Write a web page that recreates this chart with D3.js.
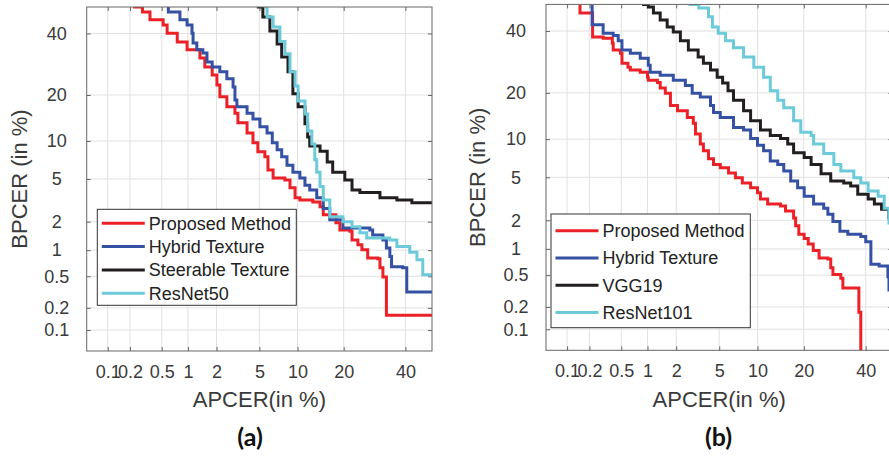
<!DOCTYPE html>
<html>
<head>
<meta charset="utf-8">
<script src="https://cdn.jsdelivr.net/npm/d3@7"></script>
<style>
  html, body { margin: 0; padding: 0; background: #fff; }
  svg { display: block; }
</style>
</head>
<body>
<svg id="chart" width="889" height="456"></svg>
<script>
// ---- Axis ticks and limits (percent, normal-deviate scale) ----
const tickValues = [0.1, 0.2, 0.5, 1, 2, 5, 10, 20, 40];
const tickLabels = ["0.1", "0.2", "0.5", "1", "2", "5", "10", "20", "40"];
const axisLimits = [0.05, 50];

const seriesColors = ["#ec2127", "#3451a4", "#231f20", "#6dcbd9"];

// ---- Panel (a) ----
const namesA = ["Proposed Method", "Hybrid Texture", "Steerable Texture", "ResNet50"];

const proposedA_apcer = [0.22, 0.29, 0.36, 0.52, 0.58, 0.76, 0.98, 1.35, 1.52, 1.81, 2.02, 2.16, 2.53, 3.02, 3.22, 3.9, 4.4, 4.85, 5.56, 5.9, 6.5, 8.05, 8.8, 9.6, 10.4, 12.8, 14.3, 15.0, 18.0, 19.0, 21.7, 22.3, 24.0, 25.2, 27.0, 30.3, 31.0, 32.0, 33.2, 33.2, 50];
const proposedA_bpcer = [50, 48.1, 45.1, 43.2, 40.1, 36.9, 34.1, 31.3, 28.3, 25.8, 22.8, 19.5, 17.0, 15.5, 13.4, 11.4, 9.7, 8.3, 7.6, 5.96, 5.1, 4.9, 4.2, 3.4, 3.25, 3.1, 2.8, 2.34, 1.95, 1.65, 1.6, 1.29, 1.15, 1.01, 0.82, 0.80, 0.63, 0.49, 0.32, 0.16, 0.16];

const hybridA_apcer = [0.58, 0.60, 0.815, 0.98, 1.11, 1.14, 1.25, 1.45, 1.6, 1.81, 2.16, 2.53, 2.9, 3.02, 3.15, 3.9, 4.4, 5.05, 5.8, 6.4, 7.0, 7.6, 8.35, 9.25, 10.4, 11.3, 12.2, 13.6, 15.0, 16.5, 19.8, 27.7, 28.6, 32.0, 33.2, 34.4, 35.0, 39.0, 40.5, 40.5, 50];
const hybridA_bpcer = [50, 48.1, 45.1, 43.2, 40.1, 36.5, 34.1, 33.0, 29.9, 28.3, 26.8, 24.6, 22.2, 18.7, 17.0, 15.5, 14.2, 12.6, 11.4, 9.7, 8.6, 7.6, 6.5, 5.7, 5.1, 4.4, 4.0, 3.4, 2.7, 2.09, 1.73, 1.65, 1.46, 1.29, 1.06, 0.85, 0.65, 0.63, 0.45, 0.32, 0.32];

const steerableA_apcer = [4.75, 5.35, 6.12, 7.0, 7.6, 8.5, 9.25, 9.25, 10.1, 11.3, 11.8, 12.2, 14.3, 15.9, 17.2, 20.3, 22.3, 24.6, 31.0, 36.9, 42.4, 50];
const steerableA_bpcer = [50, 46.2, 40.9, 36.2, 31.6, 26.8, 23.1, 20.3, 17.0, 13.2, 10.7, 9.2, 8.4, 6.9, 5.7, 4.9, 4.0, 3.8, 3.4, 3.25, 3.05, 3.05];

const resnet50A_apcer = [5.56, 5.8, 6.5, 7.36, 8.05, 8.8, 9.6, 10.1, 11.3, 11.8, 12.6, 13.2, 13.6, 14.3, 15.0, 16.5, 19.8, 22.3, 24.6, 26.7, 34.4, 36.9, 41.6, 44.3, 46.5, 50];
const resnet50A_bpcer = [50, 46.2, 42.4, 37.1, 32.7, 26.8, 22.5, 18.4, 15.3, 11.8, 9.5, 7.2, 5.7, 4.3, 3.25, 2.24, 2.0, 1.78, 1.54, 1.36, 1.29, 1.1, 0.95, 0.78, 0.52, 0.52];

// ---- Panel (b) ----
const namesB = ["Proposed Method", "Hybrid Texture", "VGG19", "ResNet101"];

const proposedB_apcer = [0.15, 0.15, 0.217, 0.22, 0.3, 0.39, 0.4, 0.49, 0.51, 0.6, 0.64, 0.83, 1.0, 1.02, 1.28, 1.37, 1.55, 1.75, 2.06, 2.57, 2.93, 3.07, 3.4, 3.63, 4.03, 4.46, 5.1, 5.98, 6.8, 7.7, 8.9, 10.0, 10.5, 11.8, 14.4, 15.5, 17.4, 17.9, 18.7, 20.1, 21.2, 22.6, 24.3, 27.0, 27.9, 28.6, 31.2, 31.9, 37.5, 37.5, 38.2, 38.2];
const proposedB_bpcer = [50, 46.7, 46.7, 37.8, 37.4, 35.6, 33.2, 32.1, 28.8, 27.5, 26.6, 25.9, 24.4, 23.5, 22.9, 21.3, 19.9, 16.8, 15.6, 14.1, 12.9, 10.9, 9.2, 8.2, 7.1, 6.4, 6.0, 5.45, 4.95, 4.47, 4.05, 3.65, 3.2, 2.88, 2.76, 2.47, 2.11, 1.76, 1.44, 1.3, 1.13, 0.96, 0.79, 0.77, 0.61, 0.51, 0.46, 0.35, 0.34, 0.17, 0.165, 0.01];

const hybridB_apcer = [0.217, 0.217, 0.29, 0.3, 0.40, 0.46, 0.51, 0.64, 0.83, 1.02, 1.07, 1.37, 1.87, 2.46, 2.86, 3.4, 4.2, 4.46, 5.1, 6.56, 7.87, 8.9, 10.0, 11.05, 12.3, 13.8, 15.1, 16.7, 18.4, 20.1, 22.7, 25.7, 27.0, 28.6, 30.9, 33.6, 38.2, 40.0, 41.9, 41.9, 45.0, 48.3, 48.7, 50];
const hybridB_bpcer = [50, 42.3, 42.3, 39.2, 38.4, 36.5, 33.2, 32.1, 30.4, 28.1, 25.9, 25.0, 23.5, 22.0, 19.9, 18.9, 16.8, 15.2, 14.1, 12.1, 11.6, 10.1, 9.0, 8.2, 6.8, 6.4, 5.65, 4.65, 4.05, 3.4, 2.88, 2.63, 2.29, 1.94, 1.55, 1.44, 1.36, 1.2, 1.02, 0.67, 0.64, 0.48, 0.33, 0.33];

const vgg19B_apcer = [0.87, 1.02, 1.16, 1.37, 1.62, 1.87, 2.2, 2.63, 3.25, 3.63, 4.2, 4.8, 5.34, 5.92, 6.56, 7.87, 8.9, 10.5, 12.3, 14.4, 16.0, 17.4, 20.1, 22.0, 24.9, 27.9, 32.2, 34.6, 37.1, 40.9, 43.2, 45.9, 48.7, 50];
const vgg19B_bpcer = [50, 49.0, 46.7, 44.1, 41.5, 39.6, 36.5, 33.2, 30.8, 28.8, 26.6, 24.4, 22.7, 20.6, 18.1, 15.6, 13.4, 11.6, 10.6, 10.1, 9.2, 7.9, 7.25, 6.4, 5.35, 4.65, 4.47, 4.2, 3.55, 3.2, 2.88, 2.57, 2.11, 1.88];

const resnet101B_apcer = [2.63, 3.3, 4.03, 4.37, 4.9, 5.65, 6.56, 7.87, 9.4, 11.05, 12.3, 13.8, 15.1, 17.4, 19.2, 22.0, 22.7, 25.7, 28.9, 31.2, 35.7, 38.2, 40.9, 44.6, 46.9, 48.7, 50];
const resnet101B_bpcer = [50, 48.6, 45.3, 41.5, 39.2, 36.5, 34.0, 30.8, 27.5, 24.4, 20.6, 18.1, 16.3, 13.4, 11.2, 10.6, 9.2, 7.8, 6.4, 5.65, 4.95, 4.47, 3.8, 3.4, 2.63, 1.88, 1.48];

// Inverse of the standard normal CDF (Acklam's rational approximation)
function probit(p) {
  const a = [-3.969683028665376e+01, 2.209460984245205e+02, -2.759285104469687e+02, 1.383577518672690e+02, -3.066479806614716e+01, 2.506628277459239e+00];
  const b = [-5.447609879822406e+01, 1.615858368580409e+02, -1.556989798598866e+02, 6.680131188771972e+01, -1.328068155288572e+01];
  const c = [-7.784894002430293e-03, -3.223964580411365e-01, -2.400758277161838e+00, -2.549732539343734e+00, 4.374664141464968e+00, 2.938163982698783e+00];
  const d = [7.784695709041462e-03, 3.224671290700398e-01, 2.445134137142996e+00, 3.754408661907416e+00];
  const pl = 0.02425, ph = 1 - pl;
  let q, r;
  if (p < pl) {
    q = Math.sqrt(-2 * Math.log(p));
    return (((((c[0]*q + c[1])*q + c[2])*q + c[3])*q + c[4])*q + c[5]) / ((((d[0]*q + d[1])*q + d[2])*q + d[3])*q + 1);
  }
  if (p <= ph) {
    q = p - 0.5; r = q * q;
    return (((((a[0]*r + a[1])*r + a[2])*r + a[3])*r + a[4])*r + a[5]) * q / (((((b[0]*r + b[1])*r + b[2])*r + b[3])*r + b[4])*r + 1);
  }
  q = Math.sqrt(-2 * Math.log(1 - p));
  return -(((((c[0]*q + c[1])*q + c[2])*q + c[3])*q + c[4])*q + c[5]) / ((((d[0]*q + d[1])*q + d[2])*q + d[3])*q + 1);
}
const dev = v => probit(v / 100);

const zip = (xs, ys) => xs.map((x, i) => ({ apcer: x, bpcer: ys[i] }));

const panels = [
  {
    id: "a", caption: "(a)",
    box: { left: 86.7, right: 432, top: 7, bottom: 351 },
    yLabelX: 27, captionX: 250,
    names: namesA,
    series: [
      zip(proposedA_apcer, proposedA_bpcer),
      zip(hybridA_apcer, hybridA_bpcer),
      zip(steerableA_apcer, steerableA_bpcer),
      zip(resnet50A_apcer, resnet50A_bpcer)
    ],
    legend: { x: 97.3, y: 209.3, w: 199, h: 96, row: 23.3, first: 14 }
  },
  {
    id: "b", caption: "(b)",
    box: { left: 546, right: 892.4, top: 4.4, bottom: 350.3 },
    yLabelX: 485, captionX: 718.5,
    names: namesB,
    series: [
      zip(proposedB_apcer, proposedB_bpcer),
      zip(hybridB_apcer, hybridB_bpcer),
      zip(vgg19B_apcer, vgg19B_bpcer),
      zip(resnet101B_apcer, resnet101B_bpcer)
    ],
    legend: { x: 551, y: 214, w: 199.3, h: 113.7, row: 27.3, first: 16.7 }
  }
];

const svg = d3.select("#chart");
const FONT = "'Liberation Sans', Arial, Helvetica, sans-serif";
const AXIS_COLOR = "#666";
const TEXT_COLOR = "#3a3a3a";

panels.forEach(P => {
  const { left, right, top, bottom } = P.box;
  const x = d3.scaleLinear().domain(axisLimits.map(dev)).range([left, right]);
  const y = d3.scaleLinear().domain(axisLimits.map(dev)).range([bottom, top]);

  const g = svg.append("g").attr("class", "panel-" + P.id);

  // grid
  const grid = g.append("g").attr("stroke", "#e2e2e2").attr("stroke-width", 1);
  tickValues.forEach(t => {
    grid.append("line").attr("x1", x(dev(t))).attr("x2", x(dev(t))).attr("y1", top).attr("y2", bottom);
    grid.append("line").attr("y1", y(dev(t))).attr("y2", y(dev(t))).attr("x1", left).attr("x2", right);
  });

  // axes with inward ticks
  const fmt = (d, i) => tickLabels[i];
  const tv = tickValues.map(dev);
  const ax = g.append("g").attr("transform", `translate(0,${bottom})`)
    .call(d3.axisBottom(x).tickValues(tv).tickFormat(fmt).tickSize(-4).tickPadding(14));
  const ay = g.append("g").attr("transform", `translate(${left},0)`)
    .call(d3.axisLeft(y).tickValues(tv).tickFormat(fmt).tickSize(-4));
  const at = g.append("g").attr("transform", `translate(0,${top})`)
    .call(d3.axisTop(x).tickValues(tv).tickFormat("").tickSize(-4));
  const ar = g.append("g").attr("transform", `translate(${right},0)`)
    .call(d3.axisRight(y).tickValues(tv).tickFormat("").tickSize(-4));
  [ax, ay, at, ar].forEach(a => {
    a.select(".domain").remove();
    a.selectAll(".tick line").attr("stroke", AXIS_COLOR);
    a.selectAll("text").attr("font-family", FONT).attr("font-size", 18).attr("fill", TEXT_COLOR);
  });
  ay.selectAll("text").attr("text-anchor", "middle").attr("x", -30);

  // curves
  const clipId = "clip-" + P.id;
  g.append("clipPath").attr("id", clipId)
    .append("rect").attr("x", left).attr("y", top).attr("width", right - left).attr("height", bottom - top);
  const line = d3.line()
    .x(d => x(dev(d.apcer)))
    .y(d => y(dev(d.bpcer)))
    .curve(d3.curveStepAfter);
  const curves = g.append("g").attr("clip-path", `url(#${clipId})`);
  P.series.forEach((s, i) => {
    curves.append("path").datum(s)
      .attr("d", line)
      .attr("fill", "none")
      .attr("stroke", seriesColors[i])
      .attr("stroke-width", 3)
      .attr("stroke-linejoin", "miter");
  });

  // box
  g.append("rect").attr("x", left).attr("y", top).attr("width", right - left).attr("height", bottom - top)
    .attr("fill", "none").attr("stroke", AXIS_COLOR).attr("stroke-width", 1);

  // axis titles
  g.append("text").attr("x", (left + right) / 2).attr("y", 407)
    .attr("text-anchor", "middle").attr("font-family", FONT).attr("font-size", 22).attr("fill", TEXT_COLOR)
    .text("APCER(in %)");
  g.append("text")
    .attr("transform", `translate(${P.yLabelX},${(top + bottom) / 2}) rotate(-90)`)
    .attr("text-anchor", "middle").attr("font-family", FONT).attr("font-size", 22).attr("fill", TEXT_COLOR)
    .text("BPCER (in %)");

  // legend
  const L = P.legend;
  const lg = g.append("g");
  lg.append("rect").attr("x", L.x).attr("y", L.y).attr("width", L.w).attr("height", L.h)
    .attr("fill", "#fff").attr("stroke", "#333").attr("stroke-width", 1);
  P.names.forEach((name, i) => {
    const cy = L.y + L.first + i * L.row;
    lg.append("line").attr("x1", L.x + 4.5).attr("x2", L.x + 47.5).attr("y1", cy).attr("y2", cy)
      .attr("stroke", seriesColors[i]).attr("stroke-width", 3);
    lg.append("text").attr("x", L.x + 51.5).attr("y", cy).attr("dy", "0.36em")
      .attr("font-family", FONT).attr("font-size", 18).attr("fill", "#222").text(name);
  });

  // caption
  g.append("text").attr("x", P.captionX).attr("y", 446).attr("text-anchor", "middle")
    .attr("font-family", "Lato, 'Open Sans', sans-serif").attr("font-weight", "bold").attr("font-size", 25)
    .attr("fill", "#111").text(P.caption);
});
</script>
</body>
</html>
